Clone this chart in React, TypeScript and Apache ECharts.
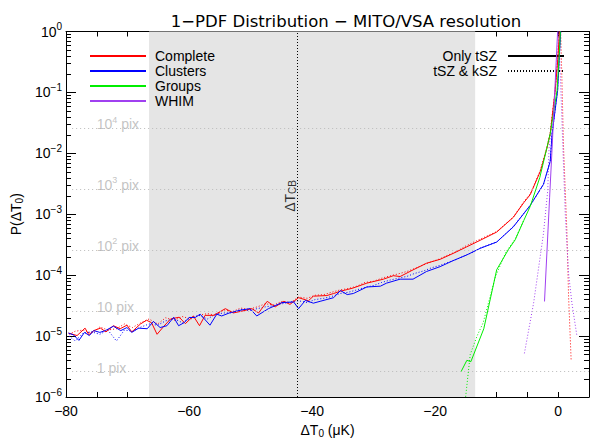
import React, { useEffect, useRef } from 'react';
import * as echarts from 'echarts';

// ---- axes ----
const xMin = -80;
const xMax = 5;
const yMin = 1e-6;
const yMax = 1;
const titleText = '1\u2212PDF Distribution \u2212 MITO/VSA resolution';

// ---- annotations ----
const shadeRange = [-66.5, -13.5];
const cbTemperature = -42.4;
const cbLabelPos = [-43.6, 2.0e-3];
const pixelLevels = [2.6e-6, 2.6e-5, 2.6e-4, 2.6e-3, 2.6e-2];
const pixelExponents = [0, 1, 2, 3, 4];
const pixelLineStart = -79;
const pixelLabelX = -75;

// ---- series names / colours ----
const seriesNames = ['Complete', 'Clusters', 'Groups', 'WHIM'];
const seriesColors = ['#ff0000', '#0000ff', '#00ee00', '#a040f0'];
const styleNames = ['Only tSZ', 'tSZ & kSZ'];

// ---- data: [ΔT0 (µK), P(ΔT0)] ----
const completeOnly = [
  [-79.6, 1.12e-5], [-78.2, 1.02e-5], [-76.9, 1.35e-5], [-76.3, 1.05e-5], [-75.5, 1.23e-5],
  [-74.4, 1.35e-5], [-73.5, 1.17e-5], [-72.3, 1.48e-5], [-71.2, 1.32e-5], [-70.1, 1.51e-5],
  [-69.3, 1.17e-5], [-67.9, 1.58e-5], [-66.9, 1.82e-5], [-66.1, 1.66e-5], [-65.2, 1.07e-5],
  [-64.1, 1.45e-5], [-63.0, 1.91e-5], [-61.6, 2.04e-5], [-60.6, 1.6e-5], [-59.3, 2.14e-5],
  [-58.3, 1.48e-5], [-57.4, 2.19e-5], [-56.0, 2.19e-5], [-54.1, 2.82e-5], [-52.8, 2.4e-5],
  [-51.4, 2.57e-5], [-49.8, 2.82e-5], [-48.7, 2.4e-5], [-47.3, 3.72e-5], [-46.0, 3.02e-5],
  [-44.6, 3.72e-5], [-43.6, 3.31e-5], [-42.2, 4.27e-5], [-40.6, 3.8e-5], [-39.8, 4.52e-5],
  [-37.6, 4.63e-5], [-36.5, 5.0e-5], [-35.4, 5.45e-5], [-34.3, 5.8e-5], [-33.3, 6.17e-5],
  [-31.1, 7.4e-5], [-28.4, 8.6e-5], [-26.8, 9.8e-5], [-25.7, 9.5e-5], [-23.6, 1.22e-4],
  [-21.4, 1.57e-4], [-19.2, 1.82e-4], [-17.1, 2.27e-4], [-14.9, 2.91e-4], [-12.7, 3.73e-4],
  [-10.0, 5.1e-4], [-7.3, 8.9e-4], [-5.6, 1.55e-3], [-4.55, 2.1e-3], [-2.9, 5.1e-3],
  [-1.85, 1.2e-2], [-1.3, 2.1e-2], [-0.5, 0.107], [-0.05, 0.37], [0.2, 1.0],
];
const completeBoth = [
  [-79.5, 1.07e-5], [-78.5, 1.2e-5], [-77.2, 1.26e-5], [-75.8, 1.12e-5], [-74.5, 1.41e-5],
  [-73.2, 1.26e-5], [-71.8, 1.32e-5], [-70.5, 1.58e-5], [-69.2, 1.38e-5], [-67.8, 1.66e-5],
  [-66.5, 1.91e-5], [-65.1, 1.58e-5], [-63.8, 2.0e-5], [-62.4, 1.82e-5], [-61.1, 2.09e-5],
  [-59.7, 1.91e-5], [-58.4, 2.19e-5], [-57.0, 2.34e-5], [-55.7, 2.19e-5], [-54.3, 2.69e-5],
  [-53.0, 2.51e-5], [-51.6, 2.88e-5], [-50.3, 2.75e-5], [-48.9, 3.02e-5], [-47.6, 3.39e-5],
  [-46.2, 3.24e-5], [-44.9, 3.72e-5], [-43.5, 3.55e-5], [-42.2, 4.37e-5], [-40.8, 4.17e-5],
  [-39.5, 4.68e-5], [-38.1, 4.79e-5], [-36.8, 5.25e-5], [-35.4, 5.75e-5], [-34.1, 6.03e-5],
  [-32.7, 6.61e-5], [-31.4, 7.59e-5], [-30.0, 7.94e-5], [-28.7, 8.91e-5], [-27.3, 9.77e-5],
  [-26.0, 1.05e-4], [-24.6, 1.15e-4], [-23.3, 1.29e-4], [-21.9, 1.48e-4], [-20.6, 1.66e-4],
  [-19.2, 1.86e-4], [-17.9, 2.14e-4], [-16.5, 2.45e-4], [-15.2, 2.95e-4], [-13.8, 3.47e-4],
  [-12.7, 3.9e-4], [-10.0, 5.2e-4], [-7.3, 9.0e-4], [-5.6, 1.6e-3], [-4.5, 2.2e-3],
  [-2.9, 5.3e-3], [-1.85, 1.25e-2], [-1.3, 2.2e-2], [-0.5, 0.11], [0.0, 0.4], [0.4, 1.0],
  [0.65, 0.1], [0.87, 1.2e-2], [1.4, 5.5e-4], [1.68, 4.5e-5], [2.1, 4.0e-6],
];
const clustersOnly = [
  [-79.6, 1.12e-5], [-78.8, 1.05e-5], [-77.9, 8.5e-6], [-77.0, 1.15e-5], [-76.2, 1.02e-5],
  [-75.5, 1.23e-5], [-74.5, 1.15e-5], [-73.6, 1.23e-5], [-72.3, 1.45e-5], [-71.1, 1.23e-5],
  [-70.1, 1.38e-5], [-69.3, 1.15e-5], [-68.2, 1.35e-5], [-66.8, 1.32e-5], [-65.8, 1.74e-5],
  [-64.7, 1.38e-5], [-63.6, 1.48e-5], [-62.5, 2.04e-5], [-61.7, 1.48e-5], [-60.8, 1.66e-5],
  [-60.0, 2.02e-5], [-59.0, 2.02e-5], [-58.2, 2.29e-5], [-56.6, 1.51e-5], [-55.5, 2.29e-5],
  [-54.7, 2.14e-5], [-53.3, 2.43e-5], [-51.4, 2.69e-5], [-50.1, 2.82e-5], [-49.0, 2.14e-5],
  [-47.1, 2.82e-5], [-46.0, 3.16e-5], [-44.9, 3.55e-5], [-43.0, 3.63e-5], [-42.2, 2.82e-5],
  [-41.1, 3.85e-5], [-39.8, 3.47e-5], [-38.7, 3.72e-5], [-36.5, 4.27e-5], [-35.4, 5.6e-5],
  [-34.3, 4.8e-5], [-33.3, 5.0e-5], [-31.1, 6.4e-5], [-28.9, 6.6e-5], [-27.9, 7.4e-5],
  [-25.7, 8.6e-5], [-23.6, 8.6e-5], [-21.4, 1.15e-4], [-19.2, 1.38e-4], [-17.1, 1.73e-4],
  [-14.9, 2.14e-4], [-12.7, 2.75e-4], [-10.0, 3.5e-4], [-7.3, 6.2e-4], [-4.55, 1.4e-3],
  [-2.4, 3.1e-3], [-1.3, 7.4e-3], [-1.0, 2.1e-2], [-0.1, 0.107], [0.3, 0.69], [0.4, 1.0],
];
const clustersBoth = [
  [-79.5, 1.0e-5], [-78.5, 8.3e-6], [-77.2, 1.12e-5], [-75.8, 1.17e-5], [-74.5, 1.07e-5],
  [-73.2, 1.26e-5], [-71.8, 8.3e-6], [-70.5, 1.26e-5], [-69.2, 1.2e-5], [-67.8, 1.41e-5],
  [-66.5, 1.58e-5], [-65.1, 1.51e-5], [-63.8, 1.78e-5], [-62.4, 1.91e-5], [-61.1, 1.66e-5],
  [-59.7, 2.0e-5], [-58.4, 2.19e-5], [-57.0, 1.91e-5], [-55.7, 2.29e-5], [-54.3, 2.4e-5],
  [-53.0, 2.4e-5], [-51.6, 2.75e-5], [-50.3, 2.63e-5], [-48.9, 2.82e-5], [-47.6, 3.02e-5],
  [-46.2, 3.16e-5], [-44.9, 3.39e-5], [-43.5, 3.63e-5], [-42.2, 3.8e-5], [-40.8, 3.55e-5],
  [-39.5, 3.98e-5], [-38.1, 4.17e-5], [-36.8, 4.47e-5], [-35.4, 5.01e-5], [-34.1, 5.25e-5],
  [-32.7, 5.75e-5], [-31.4, 6.31e-5], [-30.0, 6.76e-5], [-28.7, 7.59e-5], [-27.3, 8.32e-5],
  [-26.0, 8.91e-5], [-24.6, 9.55e-5], [-23.3, 1.07e-4], [-21.9, 1.17e-4], [-20.6, 1.32e-4],
  [-19.2, 1.45e-4], [-17.9, 1.62e-4], [-16.5, 1.82e-4], [-15.2, 2.09e-4], [-13.8, 2.4e-4],
  [-12.7, 2.8e-4], [-10.0, 3.5e-4], [-7.3, 6.3e-4], [-4.55, 1.4e-3], [-2.4, 3.1e-3],
  [-1.3, 7.4e-3], [-1.0, 2.1e-2], [-0.1, 0.107], [0.4, 1.0],
];
const groupsOnly = [
  [-15.8, 2.6e-6], [-14.85, 4.0e-6], [-14.2, 3.8e-6], [-12.1, 1.32e-5], [-10.0, 1.23e-4],
  [-8.1, 2.63e-4], [-7.0, 3.8e-4], [-5.6, 7.9e-4], [-4.55, 1.35e-3], [-3.0, 4.0e-3],
  [-1.3, 2.1e-2], [-0.2, 0.107], [0.16, 0.4], [0.35, 1.0],
];
const groupsBoth = [
  [-15.1, 9.0e-7], [-14.3, 5.0e-6], [-13.2, 1.0e-5], [-12.2, 1.66e-5], [-10.2, 9.5e-5],
  [-8.5, 2.4e-4], [-7.0, 3.9e-4], [-5.6, 8.0e-4],
];
const whimOnly = [
  [-2.23, 3.7e-5], [-1.4, 1.9e-3], [-1.0, 1.2e-2], [-0.1, 1.0],
];
const whimBoth = [
  [-5.5, 5.2e-6], [-4.0, 3.5e-5], [-2.4, 4.8e-4], [-1.7, 2.5e-3], [-1.5, 1.2e-2],
  [-0.5, 0.1], [0.1, 1.0], [0.76, 1.2e-2], [1.14, 1.0e-3], [1.68, 1.07e-4],
  [2.22, 3.5e-5], [3.04, 1.0e-5],
];

const onlyData = [completeOnly, clustersOnly, groupsOnly, whimOnly];
const bothData = [completeBoth, clustersBoth, groupsBoth, whimBoth];

// minor log ticks (2..9 x 10^k)
const minorTickValues: number[] = [];
for (let k = -6; k < 0; k++) {
  for (let m = 2; m <= 9; m++) minorTickValues.push(m * Math.pow(10, k));
}

const FONT = 'Liberation Sans';
const fmtMinus = (v: number) => String(v).replace('-', '\u2212');

export default function App() {
  const ref = useRef<HTMLDivElement>(null);
  useEffect(() => {
    if (!ref.current) return;
    const chart = echarts.init(ref.current, undefined, { renderer: 'svg' });

    const dotted = [1, 2];
    const dataSeries: any[] = [];
    seriesNames.forEach((name, i) => {
      dataSeries.push({
        type: 'line', name, data: onlyData[i], symbol: 'none', z: 4,
        lineStyle: { color: seriesColors[i], width: 1 }, itemStyle: { color: seriesColors[i] },
      });
    });
    seriesNames.forEach((name, i) => {
      dataSeries.push({
        type: 'line', name, data: bothData[i], symbol: 'none', z: 3,
        lineStyle: { color: seriesColors[i], width: 1, type: dotted }, itemStyle: { color: seriesColors[i] },
      });
    });

    const axisLineBlack = { show: true, onZero: false, lineStyle: { color: '#000', width: 1 } };

    const option: any = {
      animation: false,
      textStyle: { fontFamily: FONT },
      title: {
        text: titleText, left: 341, top: 8, textAlign: 'center',
        textStyle: { fontFamily: 'DejaVu Sans', fontSize: 16.5, fontWeight: 'normal', color: '#000' },
      },
      grid: { left: 66, right: 1, top: 31.5, bottom: 41, containLabel: false },
      legend: [
        {
          data: seriesNames, orient: 'vertical', left: 89, top: 49, itemWidth: 56, itemHeight: 14,
          itemGap: 1, selectedMode: false, padding: 0,
          itemStyle: { opacity: 0 },
          textStyle: { fontFamily: FONT, fontSize: 14, color: '#000', padding: [0, 0, 0, 4] },
        },
        {
          data: styleNames, orient: 'vertical', right: 25, top: 49, itemWidth: 56, itemHeight: 14,
          itemGap: 1, align: 'right', selectedMode: false, padding: 0,
          itemStyle: { opacity: 0 },
          textStyle: { fontFamily: FONT, fontSize: 14, color: '#000', padding: [0, 6, 0, 0] },
        },
      ],
      xAxis: [
        {
          type: 'value', min: xMin, max: xMax, interval: 5, position: 'bottom',
          axisLine: axisLineBlack,
          axisTick: { show: true, inside: true, length: 5, lineStyle: { color: '#000' } },
          axisLabel: {
            color: '#000', fontSize: 14, fontFamily: FONT, margin: 7, showMaxLabel: false,
            formatter: (v: number) => (v % 20 === 0 ? fmtMinus(v) : ''),
          },
          splitLine: { show: false },
          name: '{a|\u0394T}{s|0}{a| (\u03bcK)}', nameLocation: 'middle', nameGap: 25,
          nameTextStyle: {
            rich: {
              a: { fontSize: 14, fontFamily: FONT, color: '#000', lineHeight: 16 },
              s: { fontSize: 10, fontFamily: FONT, color: '#000', verticalAlign: 'bottom', lineHeight: 12 },
            },
          },
        },
        {
          type: 'value', min: xMin, max: xMax, interval: 5, position: 'top',
          axisLine: axisLineBlack,
          axisTick: { show: true, inside: true, length: 5, lineStyle: { color: '#000' } },
          axisLabel: { show: false }, splitLine: { show: false },
        },
      ],
      yAxis: [
        {
          type: 'log', logBase: 10, min: yMin, max: yMax, position: 'left',
          axisLine: axisLineBlack,
          axisTick: { show: true, inside: true, length: 10, lineStyle: { color: '#000' } },
          splitLine: { show: false },
          axisLabel: {
            margin: 4,
            formatter: (v: number) => {
              const e = Math.round(Math.log10(v));
              return `{b|10}{s|${e === 0 ? '0' : '\u2212' + -e}}`;
            },
            rich: {
              b: { fontSize: 14, fontFamily: FONT, color: '#000', lineHeight: 20 },
              s: { fontSize: 10, fontFamily: FONT, color: '#000', verticalAlign: 'top', lineHeight: 12 },
            },
          },
          name: '{a|P(\u0394T}{s|0}{a|)}', nameLocation: 'middle', nameGap: 40,
          nameTextStyle: {
            rich: {
              a: { fontSize: 14, fontFamily: FONT, color: '#000', lineHeight: 16 },
              s: { fontSize: 10, fontFamily: FONT, color: '#000', verticalAlign: 'bottom', lineHeight: 12 },
            },
          },
        },
        {
          type: 'log', logBase: 10, min: yMin, max: yMax, position: 'right',
          axisLine: axisLineBlack,
          axisTick: { show: true, inside: true, length: 10, lineStyle: { color: '#000' } },
          axisLabel: { show: false }, splitLine: { show: false },
        },
      ],
      series: [
        {
          type: 'line', name: 'shade', data: [], z: 1, silent: true, clip: false,
          markArea: {
            silent: true, itemStyle: { color: '#e5e5e5' },
            data: [[{ xAxis: shadeRange[0], yAxis: 9.5e-7 }, { xAxis: shadeRange[1], yAxis: 1.05 }]],
          },
        },
        {
          type: 'line', name: 'refs', data: [], z: 2, silent: true,
          markLine: {
            silent: true, symbol: 'none', label: { show: false },
            data: [
              { xAxis: cbTemperature, lineStyle: { color: '#000', width: 1, type: [1, 2] } },
              ...pixelLevels.map((v) => [
                { coord: [pixelLineStart, v], lineStyle: { color: '#bbbbbb', width: 1, type: [1, 3] } },
                { coord: [xMax, v] },
              ]),
            ],
          },
        },
        {
          type: 'scatter', name: 'pixlabels', symbolSize: 0, z: 6, silent: true,
          data: pixelLevels.map((v, i) => [pixelLabelX, v, pixelExponents[i]]),
          label: {
            show: true, position: 'right', distance: 0, offset: [0, -4],
            formatter: (p: any) => {
              const e = p.value[2];
              if (e === 0) return '{t|1 pix}';
              if (e === 1) return '{t|10 pix}';
              return `{t|10}{s|${e}}{t| pix}`;
            },
            rich: {
              t: { fontSize: 14, fontFamily: FONT, color: '#b4b4b4', lineHeight: 18 },
              s: { fontSize: 9, fontFamily: FONT, color: '#b4b4b4', verticalAlign: 'top', lineHeight: 11 },
            },
          },
        },
        {
          type: 'scatter', name: 'cblabel', symbolSize: 0, z: 6, silent: true,
          data: [cbLabelPos],
          label: {
            show: true, position: 'inside', rotate: 90,
            formatter: '{a|\u0394T}{s|CB}',
            rich: {
              a: { fontSize: 14, fontFamily: FONT, color: '#000', lineHeight: 16 },
              s: { fontSize: 10, fontFamily: FONT, color: '#000', verticalAlign: 'bottom', lineHeight: 12 },
            },
          },
        },
        {
          type: 'line', name: styleNames[0], data: [], symbol: 'none',
          lineStyle: { color: '#000', width: 1 }, itemStyle: { color: '#000' },
        },
        {
          type: 'line', name: styleNames[1], data: [], symbol: 'none',
          lineStyle: { color: '#000', width: 1, type: dotted }, itemStyle: { color: '#000' },
        },
        ...dataSeries,
        {
          type: 'custom', name: 'minorTicks', coordinateSystem: 'cartesian2d', silent: true, z: 5,
          data: minorTickValues.map((v) => [xMin, v]),
          encode: { x: 0, y: 1 },
          renderItem: (params: any, api: any) => {
            const v = api.value(1);
            const l = api.coord([xMin, v]);
            const r = api.coord([xMax, v]);
            const y = Math.round(l[1]) + 0.5;
            return {
              type: 'group',
              children: [
                { type: 'line', shape: { x1: l[0], y1: y, x2: l[0] + 5, y2: y }, style: { stroke: '#000', lineWidth: 1 } },
                { type: 'line', shape: { x1: r[0] - 5, y1: y, x2: r[0], y2: y }, style: { stroke: '#000', lineWidth: 1 } },
              ],
            };
          },
        },
      ],
    };
    chart.setOption(option);
    return () => chart.dispose();
  }, []);

  return (
    <div
      ref={ref}
      style={{ position: 'absolute', left: 0, top: 0, width: 590, height: 443, background: '#fff' }}
    />
  );
}
